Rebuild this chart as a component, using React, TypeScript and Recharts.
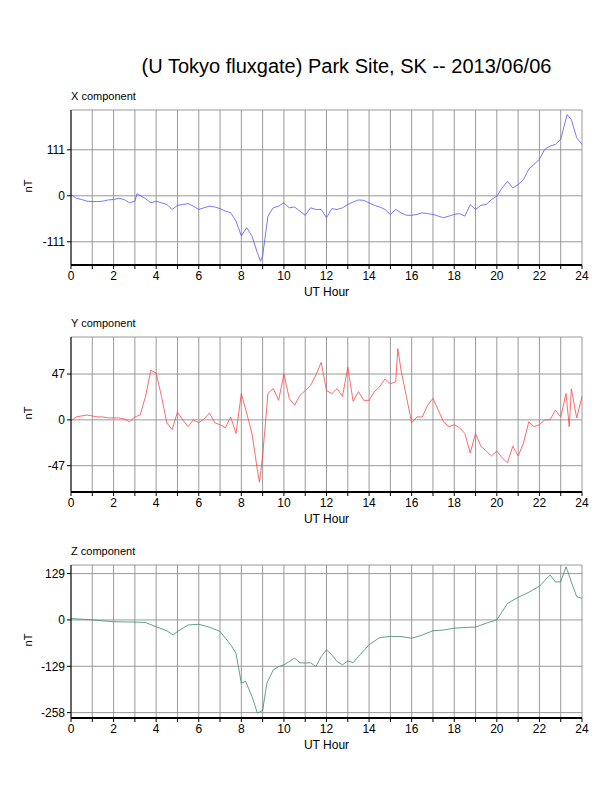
import React from 'react';
import { LineChart, Line, XAxis, YAxis, CartesianGrid } from 'recharts';

const hourTicks = [0, 1, 2, 3, 4, 5, 6, 7, 8, 9, 10, 11, 12, 13, 14, 15, 16, 17, 18, 19, 20, 21, 22, 23, 24];

const xCompHours = [0, 0.25, 0.5, 0.75, 1, 1.25, 1.5, 1.75, 2, 2.25, 2.5, 2.75, 3, 3.1, 3.5, 3.75, 4, 4.25, 4.5, 4.75, 5, 5.25, 5.5, 5.75, 6, 6.25, 6.5, 6.75, 7, 7.25, 7.5, 7.75, 8, 8.25, 8.5, 8.75, 8.9, 9, 9.25, 9.5, 9.75, 10, 10.25, 10.5, 10.75, 11, 11.25, 11.5, 11.75, 12, 12.25, 12.5, 12.75, 13, 13.25, 13.5, 13.75, 14, 14.25, 14.5, 14.75, 15, 15.25, 15.5, 15.75, 16, 16.25, 16.5, 16.75, 17, 17.25, 17.5, 17.75, 18, 18.25, 18.5, 18.75, 19, 19.25, 19.5, 19.75, 20, 20.25, 20.5, 20.75, 21, 21.25, 21.5, 21.75, 22, 22.25, 22.5, 22.75, 23, 23.3, 23.5, 23.75, 24];
const xCompValues = [3, -6, -9, -13, -14, -14, -13, -10, -9, -6, -9, -17, -13, 5, -7, -17, -13, -17, -21, -33, -23, -21, -19, -25, -33, -29, -25, -27, -31, -37, -41, -61, -97, -77, -97, -137, -158, -145, -49, -29, -25, -17, -29, -27, -37, -47, -29, -33, -33, -53, -31, -33, -29, -21, -15, -10, -11, -17, -23, -27, -33, -45, -33, -41, -47, -47, -45, -41, -43, -45, -49, -53, -49, -45, -43, -49, -21, -33, -23, -21, -9, -1, 19, 35, 19, 27, 39, 64, 76, 88, 112, 120, 124, 136, 196, 184, 140, 124];

const yCompHours = [0, 0.25, 0.5, 0.75, 1, 1.25, 1.5, 1.75, 2, 2.25, 2.5, 2.75, 3, 3.25, 3.5, 3.75, 4, 4.25, 4.5, 4.75, 5, 5.25, 5.5, 5.75, 6, 6.25, 6.5, 6.75, 7, 7.25, 7.5, 7.75, 8, 8.25, 8.5, 8.75, 8.85, 9, 9.25, 9.5, 9.75, 10, 10.25, 10.5, 10.75, 11, 11.25, 11.5, 11.75, 12, 12.25, 12.5, 12.75, 13, 13.25, 13.5, 13.75, 14, 14.25, 14.5, 14.75, 15, 15.25, 15.35, 15.5, 15.75, 16, 16.25, 16.5, 16.75, 17, 17.25, 17.5, 17.75, 18, 18.25, 18.5, 18.75, 19, 19.25, 19.5, 19.75, 20, 20.25, 20.5, 20.75, 21, 21.25, 21.5, 21.75, 22, 22.25, 22.5, 22.75, 23, 23.25, 23.4, 23.5, 23.75, 24];
const yCompValues = [-1, 3, 4, 5, 4, 3, 3, 2, 2, 2, 1, -2, 3, 5, 24, 51, 48, 24, -3, -10, 8, 0, -7, 0, -3, 1, 7, -3, -5, -8, 3, -14, 27, 7, -14, -51, -64, -37, 27, 32, 20, 47, 22, 15, 25, 30, 35, 46, 59, 30, 27, 32, 24, 54, 19, 29, 20, 20, 29, 34, 42, 37, 39, 73, 51, 24, -3, 3, 3, 15, 22, 10, -2, -7, -5, -8, -14, -34, -14, -27, -32, -37, -32, -39, -44, -27, -37, -24, -2, -7, -5, 0, 0, 10, 3, 27, -7, 32, 2, 24];

const zCompHours = [0, 1, 2, 3, 3.5, 4, 4.5, 4.8, 5, 5.5, 6, 6.5, 7, 7.5, 7.75, 8, 8.2, 8.5, 8.75, 9, 9.2, 9.5, 9.75, 10, 10.25, 10.5, 10.75, 11, 11.25, 11.5, 11.75, 12, 12.25, 12.5, 12.75, 13, 13.25, 13.5, 14, 14.5, 15, 15.5, 16, 16.5, 17, 17.5, 18, 18.5, 19, 19.5, 20, 20.5, 21, 21.5, 22, 22.5, 22.75, 23, 23.25, 23.5, 23.75, 24];
const zCompValues = [4, 0, -5, -6, -7, -19, -30, -42, -32, -14, -12, -20, -32, -69, -93, -176, -171, -213, -259, -252, -176, -139, -130, -125, -116, -106, -119, -120, -119, -130, -102, -83, -97, -116, -125, -114, -119, -102, -69, -49, -46, -46, -51, -42, -30, -28, -23, -21, -20, -9, 0, 46, 63, 77, 94, 125, 106, 106, 148, 106, 65, 60];

const toRows = (hours: number[], values: number[]) => hours.map((h, i) => ({ h, v: values[i] }));

const font = '"Liberation Sans", Arial, sans-serif';

interface PanelProps {
  top: number;
  title: string;
  rows: { h: number; v: number }[];
  domain: [number, number];
  ticks: number[];
  color: string;
  plotHeight: number;
}

function Panel({ top, title, rows, domain, ticks, color, plotHeight }: PanelProps) {
  const tickStyle = { fill: '#000', fontSize: 12, fontFamily: font };
  return (
    <>
      <div style={{ position: 'absolute', left: 63, top: top - 20, fontSize: 11, fontFamily: font }}>{title}</div>
      <div style={{ position: 'absolute', left: 14, top: top + plotHeight / 2 - 8, fontSize: 11, fontFamily: font, transform: 'rotate(-90deg)' }}>nT</div>
      <div style={{ position: 'absolute', left: 63, width: 511, textAlign: 'center', top: top + plotHeight + 20, fontSize: 12, fontFamily: font }}>UT Hour</div>
      <div style={{ position: 'absolute', left: 0, top: top - 10 }}>
        <LineChart width={600} height={plotHeight + 40} data={rows} margin={{ top: 10, right: 26, left: 23, bottom: 0 }}>
          <CartesianGrid stroke="#999" strokeWidth={1} />
          <XAxis dataKey="h" type="number" domain={[0, 24]} ticks={hourTicks} interval={0}
            tickFormatter={(t: number) => (t % 2 === 0 ? String(t) : '')}
            tick={tickStyle} tickSize={4} height={30} axisLine={{ stroke: '#000', strokeWidth: 2 }} tickLine={{ stroke: '#000' }} />
          <XAxis xAxisId="top" orientation="top" dataKey="h" type="number" domain={[0, 24]} ticks={hourTicks} tick={false} height={0}
            axisLine={{ stroke: '#000', strokeWidth: 2 }} tickLine={{ stroke: '#000' }} tickSize={4} />
          <YAxis type="number" domain={domain} ticks={ticks} allowDataOverflow interval={0} width={40} tick={tickStyle}
            tickSize={4} axisLine={{ stroke: '#000' }} tickLine={{ stroke: '#000' }} />
          <YAxis yAxisId="right" orientation="right" type="number" domain={domain} ticks={ticks} tick={false} width={0}
            axisLine={{ stroke: '#000' }} tickLine={{ stroke: '#000' }} tickSize={4} />
          <Line dataKey="v" stroke={color} strokeWidth={0.8} dot={false} isAnimationActive={false} />
        </LineChart>
      </div>
    </>
  );
}

export default function App() {
  return (
    <div style={{ position: 'relative', width: 600, height: 776 }}>
      <div style={{ position: 'absolute', left: 0, width: 677, textAlign: 'center', top: 47, fontSize: 20, fontFamily: font }}>
        (U Tokyo fluxgate) Park Site, SK -- 2013/06/06
      </div>
      <Panel top={102} title="X component" rows={toRows(xCompHours, xCompValues)} domain={[-167, 207]} ticks={[-111, 0, 111]} color="#5555ff" plotHeight={155} />
      <Panel top={329} title="Y component" rows={toRows(yCompHours, yCompValues)} domain={[-74, 85]} ticks={[-47, 0, 47]} color="#ff4444" plotHeight={155} />
      <Panel top={557} title="Z component" rows={toRows(zCompHours, zCompValues)} domain={[-273, 153]} ticks={[-258, -129, 0, 129]} color="#3a8a6a" plotHeight={153} />
    </div>
  );
}
